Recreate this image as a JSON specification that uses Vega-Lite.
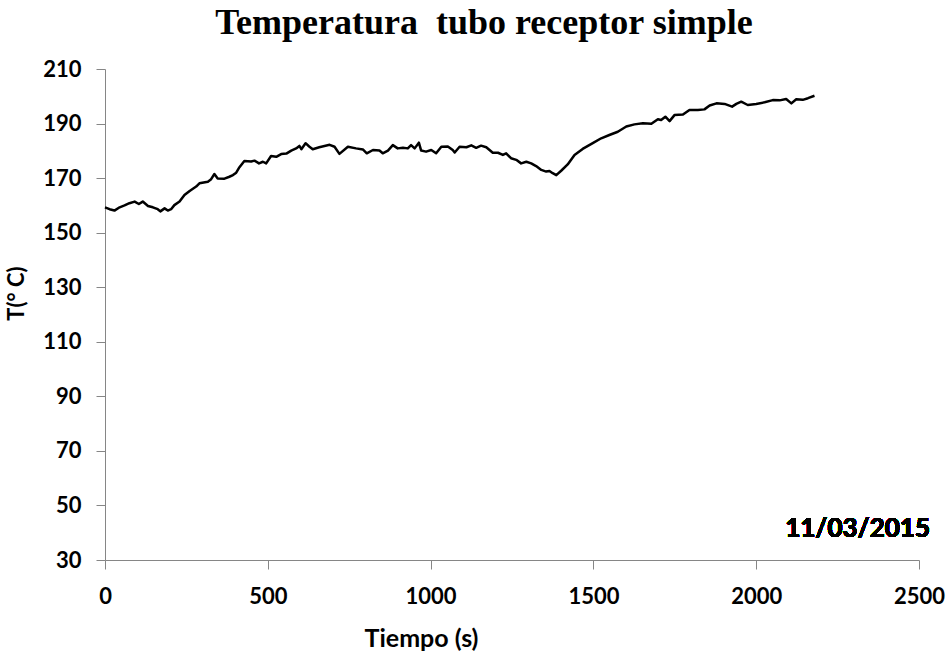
{
  "$schema": "https://vega.github.io/schema/vega-lite/v6.json",
  "width": 814,
  "height": 491,
  "autosize": {"type": "none"},
  "padding": {"left": 105, "top": 69, "right": 32, "bottom": 95},
  "background": "white",
  "config": {
    "view": {"stroke": null},
    "axis": {
      "grid": false,
      "labelFlush": false,
      "labelOverlap": false,
      "domainColor": "#868686",
      "tickColor": "#868686",
      "tickSize": 9,
      "labelFont": "Lato",
      "labelFontWeight": "bold",
      "labelFontSize": 22,
      "labelColor": "#000000",
      "titleFont": "Lato",
      "titleFontWeight": "bold",
      "titleColor": "#000000"
    }
  },
  "title": {
    "text": "Temperatura\u00a0 tubo receptor simple",
    "font": "Liberation Serif",
    "fontSize": 36,
    "fontWeight": "bold",
    "color": "#000000",
    "anchor": "middle",
    "dx": -28,
    "offset": 16
  },
  "data": {
    "values": [
      {"t": 0, "T": 159.3}, {"t": 14, "T": 158.6}, {"t": 29, "T": 158.1}, {"t": 45, "T": 159.3},
      {"t": 60, "T": 160.0}, {"t": 75, "T": 160.8}, {"t": 91, "T": 161.4}, {"t": 104, "T": 160.5},
      {"t": 116, "T": 161.4}, {"t": 132, "T": 159.8}, {"t": 147, "T": 159.3}, {"t": 162, "T": 158.6},
      {"t": 170, "T": 157.8}, {"t": 183, "T": 158.9}, {"t": 193, "T": 158.1}, {"t": 203, "T": 158.6},
      {"t": 213, "T": 160.1}, {"t": 229, "T": 161.4}, {"t": 244, "T": 163.8}, {"t": 260, "T": 165.3},
      {"t": 280, "T": 166.9}, {"t": 290, "T": 168.1}, {"t": 316, "T": 168.7}, {"t": 326, "T": 169.6},
      {"t": 336, "T": 171.5}, {"t": 346, "T": 169.9}, {"t": 367, "T": 169.8}, {"t": 382, "T": 170.5},
      {"t": 393, "T": 171.1}, {"t": 403, "T": 172.0}, {"t": 413, "T": 174.0}, {"t": 428, "T": 176.3},
      {"t": 449, "T": 176.1}, {"t": 459, "T": 176.4}, {"t": 473, "T": 175.4}, {"t": 485, "T": 176.0},
      {"t": 495, "T": 175.4}, {"t": 510, "T": 178.1}, {"t": 526, "T": 177.8}, {"t": 541, "T": 178.8},
      {"t": 557, "T": 179.0}, {"t": 572, "T": 180.1}, {"t": 587, "T": 180.9}, {"t": 597, "T": 181.8},
      {"t": 603, "T": 180.6}, {"t": 616, "T": 182.8}, {"t": 627, "T": 181.6}, {"t": 638, "T": 180.6},
      {"t": 658, "T": 181.3}, {"t": 690, "T": 182.2}, {"t": 705, "T": 181.5}, {"t": 720, "T": 178.9},
      {"t": 746, "T": 181.5}, {"t": 771, "T": 180.9}, {"t": 792, "T": 180.5}, {"t": 804, "T": 179.1},
      {"t": 823, "T": 180.3}, {"t": 843, "T": 180.1}, {"t": 853, "T": 179.1}, {"t": 869, "T": 180.1},
      {"t": 884, "T": 182.1}, {"t": 899, "T": 180.9}, {"t": 915, "T": 181.1}, {"t": 930, "T": 180.9},
      {"t": 940, "T": 182.1}, {"t": 951, "T": 180.9}, {"t": 964, "T": 183.0}, {"t": 971, "T": 180.1},
      {"t": 986, "T": 179.7}, {"t": 1002, "T": 180.3}, {"t": 1017, "T": 179.1}, {"t": 1033, "T": 181.5},
      {"t": 1053, "T": 181.6}, {"t": 1068, "T": 180.3}, {"t": 1074, "T": 179.4}, {"t": 1089, "T": 181.5},
      {"t": 1110, "T": 181.3}, {"t": 1125, "T": 182.0}, {"t": 1140, "T": 181.1}, {"t": 1155, "T": 181.9},
      {"t": 1171, "T": 181.3}, {"t": 1191, "T": 179.3}, {"t": 1207, "T": 179.3}, {"t": 1222, "T": 178.5},
      {"t": 1232, "T": 179.1}, {"t": 1247, "T": 177.3}, {"t": 1263, "T": 176.7}, {"t": 1278, "T": 175.4},
      {"t": 1294, "T": 176.0}, {"t": 1309, "T": 175.4}, {"t": 1324, "T": 174.4}, {"t": 1340, "T": 173.0},
      {"t": 1355, "T": 172.4}, {"t": 1365, "T": 172.6}, {"t": 1375, "T": 171.8}, {"t": 1386, "T": 171.1},
      {"t": 1401, "T": 172.7}, {"t": 1421, "T": 175.0}, {"t": 1442, "T": 178.5}, {"t": 1467, "T": 180.7},
      {"t": 1498, "T": 182.8}, {"t": 1524, "T": 184.6}, {"t": 1549, "T": 185.8}, {"t": 1575, "T": 187.0},
      {"t": 1601, "T": 188.9}, {"t": 1626, "T": 189.7}, {"t": 1652, "T": 190.1}, {"t": 1678, "T": 189.9},
      {"t": 1698, "T": 191.6}, {"t": 1708, "T": 191.3}, {"t": 1721, "T": 192.5}, {"t": 1734, "T": 190.9},
      {"t": 1749, "T": 193.1}, {"t": 1775, "T": 193.3}, {"t": 1795, "T": 195.0}, {"t": 1821, "T": 195.0},
      {"t": 1841, "T": 195.2}, {"t": 1857, "T": 196.6}, {"t": 1878, "T": 197.4}, {"t": 1903, "T": 197.2},
      {"t": 1926, "T": 196.2}, {"t": 1939, "T": 197.2}, {"t": 1954, "T": 198.0}, {"t": 1974, "T": 196.8},
      {"t": 2000, "T": 197.2}, {"t": 2026, "T": 197.8}, {"t": 2051, "T": 198.6}, {"t": 2072, "T": 198.5},
      {"t": 2092, "T": 199.0}, {"t": 2108, "T": 197.4}, {"t": 2123, "T": 198.9}, {"t": 2143, "T": 198.7},
      {"t": 2159, "T": 199.3}, {"t": 2179, "T": 200.2}
    ]
  },
  "layer": [
    {
      "mark": {"type": "line", "color": "#000000", "strokeWidth": 2.5, "strokeJoin": "round"},
      "encoding": {
        "x": {
          "field": "t",
          "type": "quantitative",
          "scale": {"domain": [0, 2500], "nice": false},
          "axis": {
            "values": [0, 500, 1000, 1500, 2000, 2500],
            "format": "d",
            "title": "Tiempo (s)",
            "titleFontSize": 25,
            "labelPadding": 17,
            "titleX": 316,
            "titleY": 86,
            "titleBaseline": "alphabetic",
            "titleAnchor": "middle"
          }
        },
        "y": {
          "field": "T",
          "type": "quantitative",
          "scale": {"domain": [30, 210], "nice": false, "zero": false},
          "axis": {
            "values": [30, 50, 70, 90, 110, 130, 150, 170, 190, 210],
            "title": "T(° C)",
            "titleFontSize": 22,
            "labelPadding": 15,
            "titleX": -77,
            "titleY": 224,
            "titleAngle": -90,
            "titleAnchor": "middle"
          }
        }
      }
    },
    {
      "mark": {
        "type": "text",
        "text": "11/03/2015",
        "font": "Lato",
        "fontWeight": "bold",
        "fontSize": 26,
        "align": "right",
        "baseline": "alphabetic",
        "dx": 11,
        "color": "#000000"
      },
      "encoding": {
        "x": {"datum": 2500, "type": "quantitative"},
        "y": {"datum": 38.5, "type": "quantitative"}
      }
    }
  ]
}
